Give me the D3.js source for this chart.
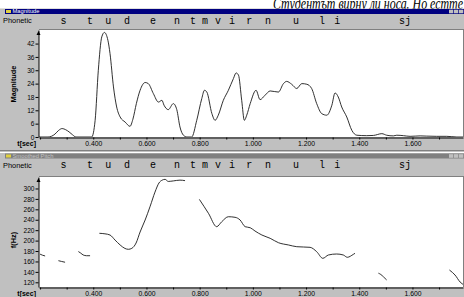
<!DOCTYPE html>
<html>
<head>
<meta charset="utf-8">
<script src="https://cdn.jsdelivr.net/npm/d3@7"></script>
<style>
  body { margin: 0; background: #fff; }
  svg { display: block; }
  text { font-family: "Liberation Sans", Arial, sans-serif; }
</style>
</head>
<body>
<svg id="chart" width="464" height="297"></svg>
<script>
'use strict';

// ---- data ----
const headline = 'Студентът вирну ли носа. Но естте';

const phoneSymbols = ['s', 't', 'u', 'd', 'e', 'n', 't', 'm', 'v', 'i', 'r', 'n', 'u', 'l', 'i', 'sj'];
const phoneTimes = [0.288, 0.388, 0.456, 0.527, 0.625, 0.715, 0.775, 0.820, 0.869, 0.922, 0.986, 1.057, 1.162, 1.260, 1.317, 1.572];

const magTimes = [0.196, 0.230, 0.256, 0.270, 0.283, 0.296, 0.309, 0.322, 0.335, 0.394, 0.407, 0.419, 0.432, 0.442,
  0.455, 0.463, 0.476, 0.488, 0.501, 0.520, 0.538, 0.549, 0.562, 0.576, 0.595, 0.607, 0.626, 0.645, 0.658, 0.666,
  0.682, 0.701, 0.714, 0.726, 0.739, 0.752, 0.770, 0.789, 0.808, 0.818, 0.827, 0.846, 0.858, 0.870, 0.889, 0.908,
  0.927, 0.937, 0.946, 0.958, 0.968, 0.977, 0.990, 1.012, 1.027, 1.046, 1.065, 1.096, 1.115, 1.127, 1.146, 1.165,
  1.184, 1.203, 1.221, 1.240, 1.259, 1.278, 1.297, 1.309, 1.321, 1.334, 1.353, 1.372, 1.391, 1.428, 1.453, 1.485,
  1.503, 1.528, 1.541, 1.566, 1.591, 1.629, 1.654, 1.691, 1.729, 1.767, 1.790];
const magValues = [0, 0, 1.3, 3.0, 3.8, 3.3, 2.3, 1.0, 0, 0, 7.5, 30, 45, 47,
  43.5, 37.5, 22.5, 13.5, 9, 6.7, 4.8, 8, 15, 21, 24.5, 24, 19.5, 15.7, 16.5, 14.3,
  12.3, 15, 12.3, 4.5, 0.8, 0, 0, 7.5, 17.3, 21, 20.2, 10.5, 7.5, 9.8, 16.5, 21,
  26.3, 28.8, 27.8, 16.5, 7.5, 9.8, 15, 21, 16.8, 18.8, 20.7, 20.2, 24, 25, 23.7, 21.8,
  24, 23.7, 21.8, 15, 10.5, 9.8, 14.3, 19.8, 18, 13.5, 9, 3, 0.8, 0.6, 0.7, 1.5,
  0.8, 0.5, 0.8, 0.6, 0.3, 0.5, 0.4, 0.3, 0.3, 0, 0];

// null marks a break in the pitch track
const pitchTimes = [0.200, 0.209, 0.219, null,
  0.269, 0.281, 0.294, null,
  0.344, 0.353, 0.362, 0.375, 0.388, null,
  0.423, 0.444, 0.463, 0.482, 0.501, 0.519, 0.532, 0.545, 0.561, 0.576, 0.595, 0.614, 0.632, 0.647, 0.659, 0.670,
  0.682, 0.701, 0.726, 0.745, null,
  0.799, 0.833, 0.864, 0.883, 0.908, 0.933, 0.952, 0.971, 0.990, 1.008, 1.034, 1.065, 1.096, 1.134, 1.165, 1.215,
  1.240, 1.263, 1.284, 1.315, 1.340, 1.355, 1.378, 1.384, null,
  1.472, 1.481, 1.491, 1.503, null,
  1.739, 1.750, 1.760, 1.779, 1.794];
const pitchHz = [174, 172, 170.5, null,
  161.5, 160, 158.5, null,
  179, 176, 172.5, 171, 171, null,
  214, 213, 210.7, 201, 191.6, 185, 183.3, 185.2, 195.4, 216.5, 239.5, 266, 293, 310.5, 316, 317.5,
  313.5, 314.5, 316, 315, null,
  279, 252.4, 226.7, 236.2, 245.8, 244.7, 239.5, 226.7, 224.7, 218.4, 210.7, 204.4, 196, 191.6, 188.3, 187.1,
  178.7, 166, 172.4, 174.3, 172.4, 168, 173.7, 175.6, null,
  137.5, 135, 130.5, 124.5, null,
  143.6, 139, 134, 120.6, 114.8];

const magTicks = [0, 6, 12, 18, 24, 30, 36, 42];
const pitchTicks = [120, 140, 160, 180, 200, 220, 240, 260, 280, 300];
const timeTicks = d3.range(2, 18).map(i => i / 10);
const timeLabelled = [0.4, 0.6, 0.8, 1.0, 1.2, 1.4, 1.6];

// ---- layout ----
const width = 464;
const plotLeft = 39;
const plotRight = 463;
const gray = '#c0c0c0';
const dark = '#808080';

const svg = d3.select('#chart');

const x = d3.scaleLinear().domain([0.196, 1.790]).range([plotLeft, plotRight]);

// headline of the page behind, cut by the top edge
svg.append('text')
  .attr('x', 273)
  .attr('y', 8.5)
  .style('font-family', '"Liberation Serif", "DejaVu Serif", serif')
  .style('font-style', 'italic')
  .attr('font-size', 17)
  .attr('textLength', 190)
  .attr('lengthAdjust', 'spacingAndGlyphs')
  .attr('fill', '#000')
  .text(headline);

svg.append('rect')
  .attr('x', 0).attr('y', 8.5)
  .attr('width', width).attr('height', 297 - 8.5)
  .attr('fill', gray);

function drawPanel(p) {
  const g = svg.append('g');

  // title bar
  g.append('rect')
    .attr('x', 5).attr('y', p.titleY)
    .attr('width', width - 5).attr('height', p.titleH)
    .attr('fill', p.titleFill);
  g.append('rect')
    .attr('x', 6).attr('y', p.titleY + 1)
    .attr('width', 5).attr('height', p.titleH - 2)
    .attr('fill', '#e0d040');
  g.append('text')
    .attr('x', 12.5).attr('y', p.titleY + p.titleH - 0.6)
    .attr('font-size', 5.8)
    .attr('fill', p.titleColor)
    .text(p.title);
  [449, 454, 459].forEach(bx => {
    g.append('rect')
      .attr('x', bx).attr('y', p.titleY + 0.7)
      .attr('width', 4.3).attr('height', p.titleH - 1.4)
      .attr('fill', gray);
  });

  // phonetic row
  g.append('text')
    .attr('x', 3).attr('y', p.phonY + 9)
    .attr('font-size', 7.4)
    .attr('fill', '#000')
    .text('Phonetic');
  g.selectAll('.phone')
    .data(phoneSymbols)
    .enter()
    .append('text')
    .attr('class', 'phone')
    .attr('x', (d, i) => x(phoneTimes[i]))
    .attr('y', p.phonY + 9.5)
    .attr('text-anchor', 'middle')
    .style('font-family', '"Liberation Mono", "Courier New", monospace')
    .style('fill', '#000')
    .attr('font-size', 10)
    .text(d => d);

  // plot area
  g.append('rect')
    .attr('x', plotLeft).attr('y', p.plotTop)
    .attr('width', plotRight - plotLeft).attr('height', p.plotBottom - p.plotTop)
    .attr('fill', '#fff');
  g.append('line')
    .attr('x1', plotLeft).attr('x2', plotRight + 1)
    .attr('y1', p.plotTop - 0.5).attr('y2', p.plotTop - 0.5)
    .attr('stroke', dark);
  g.append('line')
    .attr('x1', plotRight + 0.5).attr('x2', plotRight + 0.5)
    .attr('y1', p.plotTop).attr('y2', p.plotBottom)
    .attr('stroke', dark);

  const y = d3.scaleLinear().domain(p.yDomain).range([p.plotBottom, p.plotTop]);

  g.append('clipPath')
    .attr('id', p.id)
    .append('rect')
    .attr('x', plotLeft).attr('y', p.plotTop)
    .attr('width', plotRight - plotLeft).attr('height', p.plotBottom - p.plotTop);

  const line = d3.line()
    .defined(d => d[1] != null)
    .x(d => x(d[0]))
    .y(d => y(d[1]))
    .curve(d3.curveMonotoneX);

  g.append('path')
    .datum(p.times.map((t, i) => [t, p.values[i]]))
    .attr('clip-path', `url(#${p.id})`)
    .attr('fill', 'none')
    .attr('stroke', '#1a1a1a')
    .attr('stroke-width', 0.9)
    .attr('d', line);

  // y axis
  const yAxis = g.append('g')
    .attr('transform', `translate(${plotLeft - 0.5},0)`)
    .call(d3.axisLeft(y).tickValues(p.yTicks).tickSize(3).tickSizeOuter(0).tickPadding(1));
  yAxis.selectAll('text').attr('font-size', 6.6).attr('fill', '#000')
    .style('font-family', '"Liberation Sans", Arial, sans-serif');
  yAxis.selectAll('line, path').attr('stroke', '#000');
  g.append('path')
    .attr('d', `M${plotLeft - 2.5},${p.plotTop + 5}L${plotLeft - 0.5},${p.plotTop + 1}L${plotLeft + 1.5},${p.plotTop + 5}Z`)
    .attr('fill', '#000');

  g.append('text')
    .attr('transform', `translate(${p.yLabelX},${p.yLabelY}) rotate(-90)`)
    .attr('text-anchor', 'middle')
    .attr('font-size', 7.4)
    .attr('font-weight', 'bold')
    .attr('fill', '#000')
    .text(p.yLabel);

  // x axis
  const xAxis = g.append('g')
    .attr('transform', `translate(0,${p.plotBottom + 0.5})`)
    .call(d3.axisBottom(x)
      .tickValues(timeTicks)
      .tickSize(2)
      .tickSizeOuter(0)
      .tickPadding(1.5)
      .tickFormat(d => timeLabelled.some(v => Math.abs(v - d) < 1e-6) ? d3.format('.3f')(d) : ''));
  xAxis.selectAll('text').attr('font-size', 6.8).attr('fill', '#000')
    .style('font-family', '"Liberation Sans", Arial, sans-serif');
  xAxis.selectAll('line, path').attr('stroke', '#000');

  g.append('text')
    .attr('x', 36).attr('y', p.plotBottom + 8.5)
    .attr('text-anchor', 'end')
    .attr('font-size', 7)
    .attr('font-weight', 'bold')
    .attr('fill', '#000')
    .text('t[sec]');
}

drawPanel({
  id: 'clipMag',
  title: 'Magnitude',
  titleFill: '#000080',
  titleColor: '#fff',
  titleY: 9, titleH: 5,
  phonY: 14,
  plotTop: 30, plotBottom: 137,
  yDomain: [0, 48.1],
  yTicks: magTicks,
  yLabel: 'Magnitude',
  yLabelX: 15.5, yLabelY: 84,
  times: magTimes,
  values: magValues
});

// window edge between the two panes
svg.append('line').attr('x1', 0).attr('x2', width).attr('y1', 150.5).attr('y2', 150.5).attr('stroke', dark);
svg.append('line').attr('x1', 0).attr('x2', width).attr('y1', 152.5).attr('y2', 152.5).attr('stroke', '#fff');

drawPanel({
  id: 'clipPitch',
  title: 'Smoothed Pitch',
  titleFill: dark,
  titleColor: gray,
  titleY: 153.5, titleH: 5,
  phonY: 158.5,
  plotTop: 177, plotBottom: 287,
  yDomain: [111, 322],
  yTicks: pitchTicks,
  yLabel: 'f(Hz)',
  yLabelX: 15.5, yLabelY: 240,
  times: pitchTimes,
  values: pitchHz
});
</script>
</body>
</html>
